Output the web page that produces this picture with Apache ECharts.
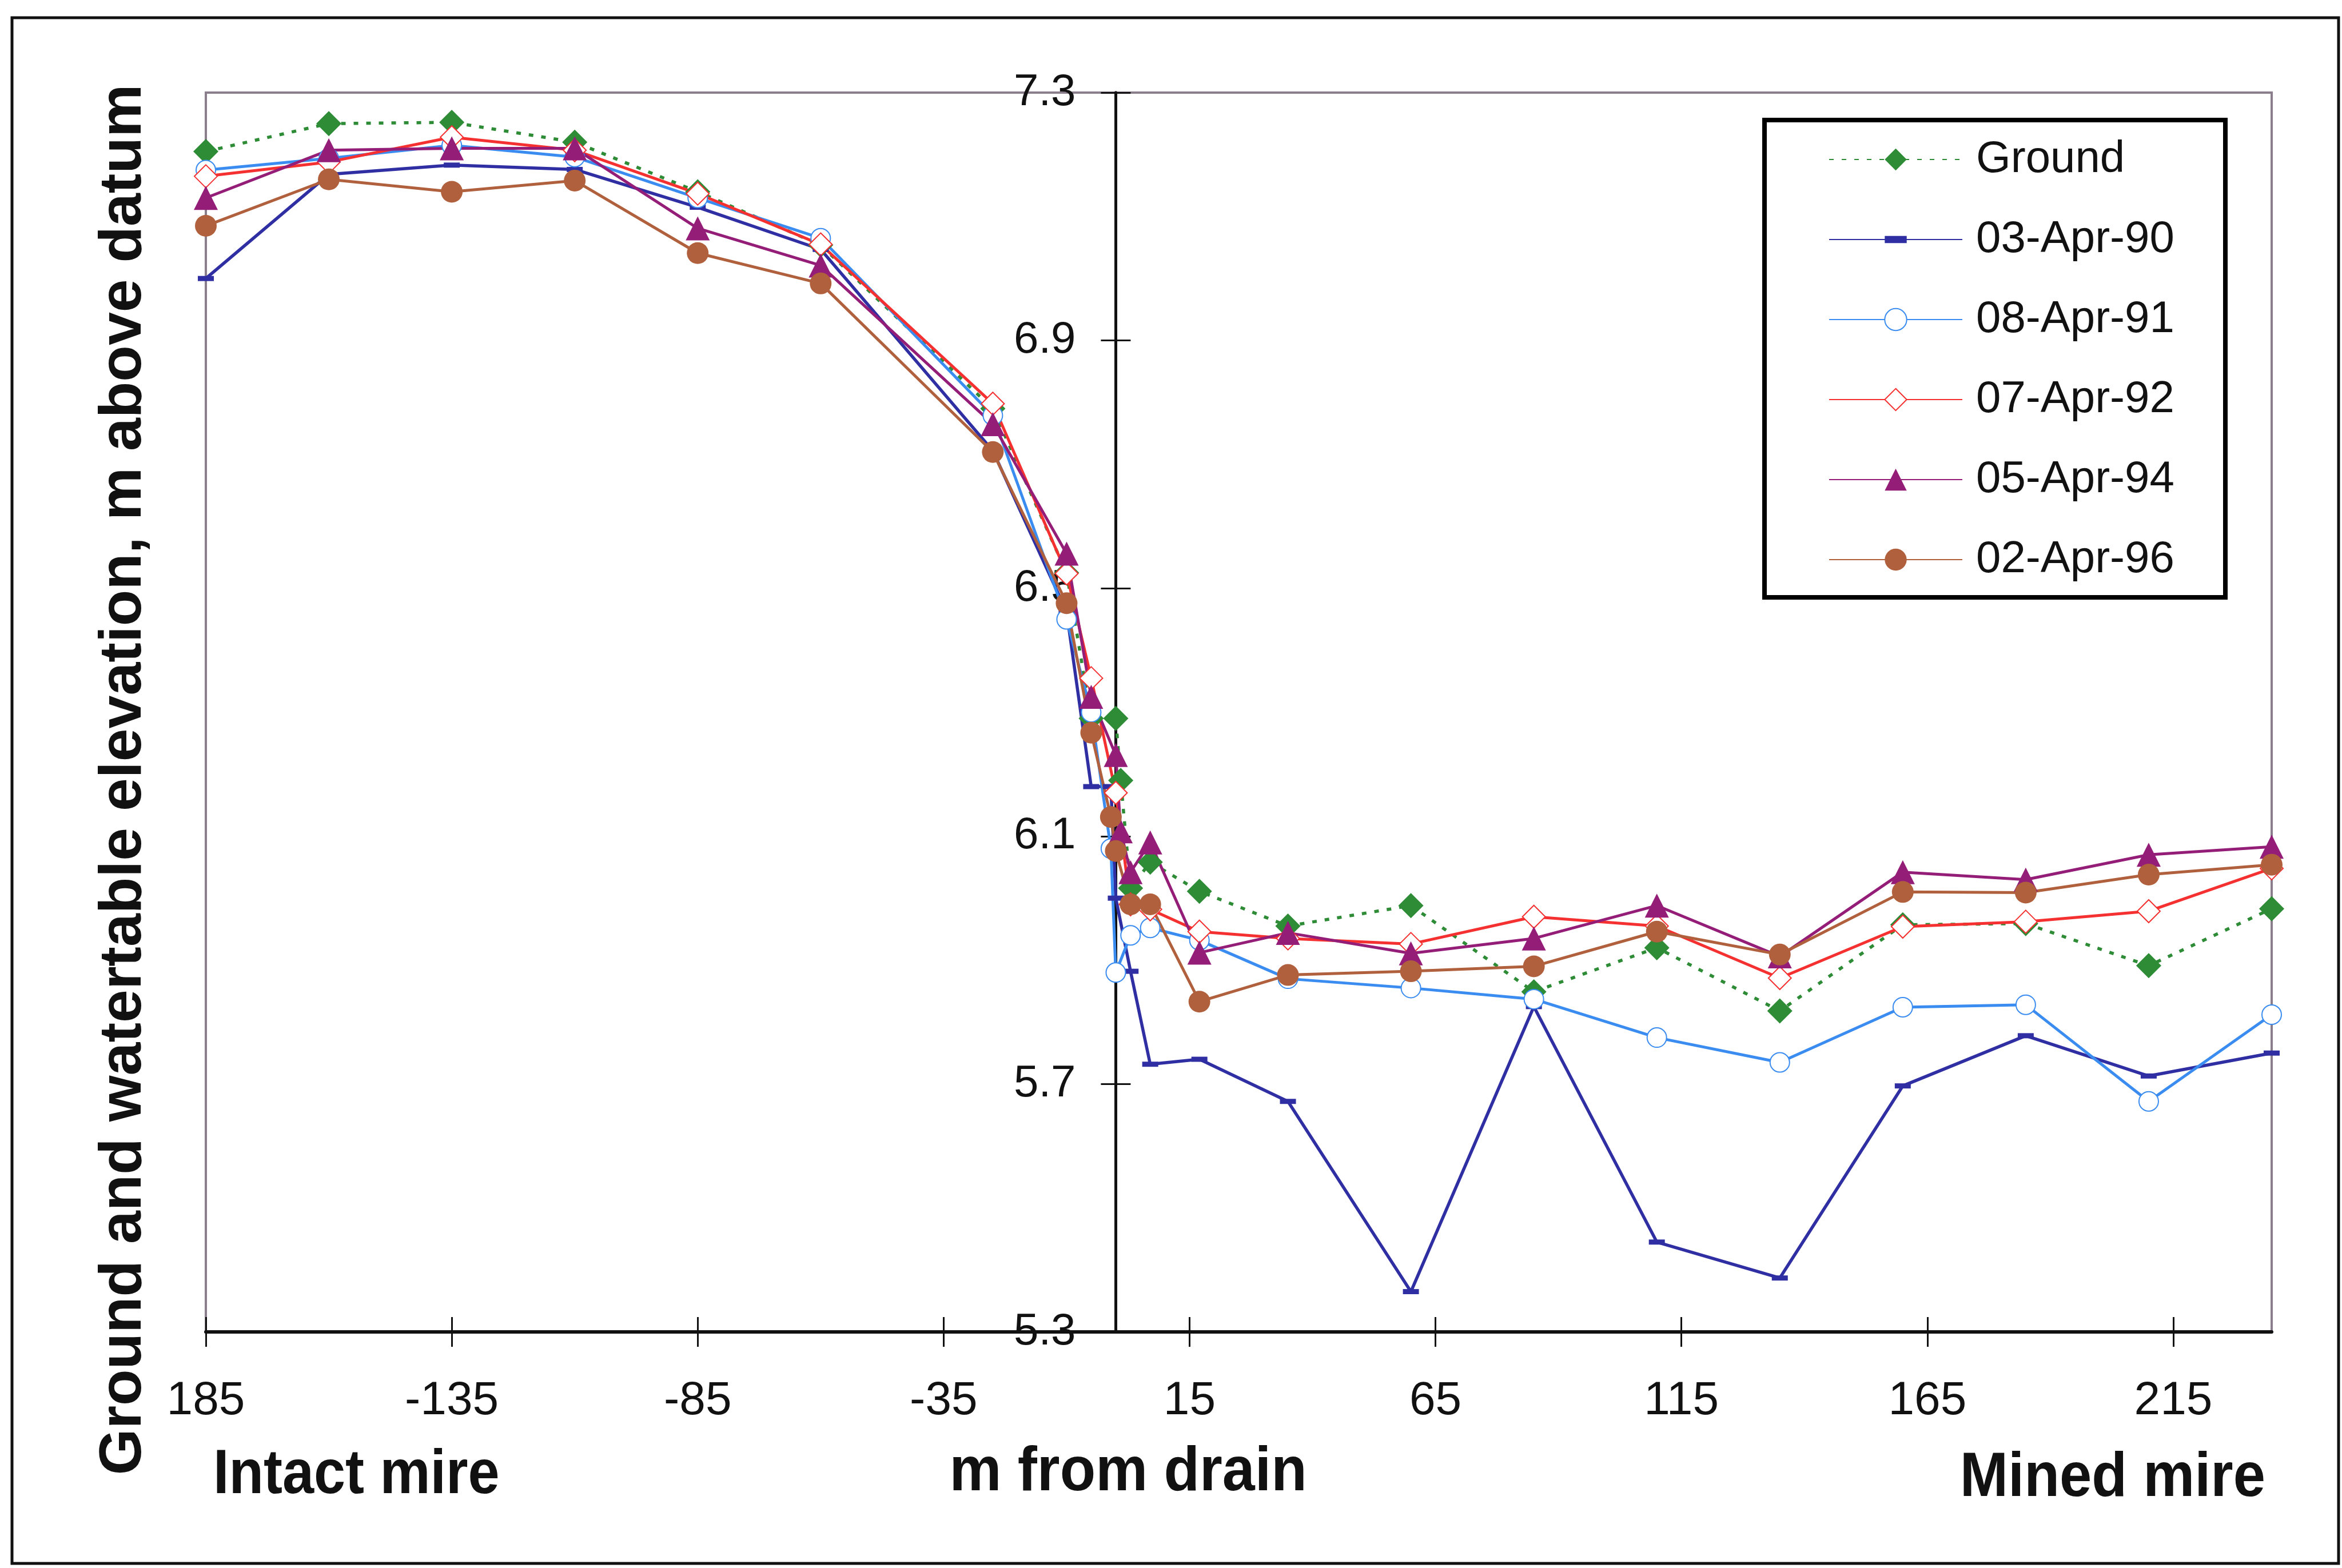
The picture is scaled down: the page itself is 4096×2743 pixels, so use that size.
<!DOCTYPE html>
<html>
<head>
<meta charset="utf-8">
<script src="https://cdn.jsdelivr.net/npm/echarts@6/dist/echarts.min.js"></script>
<style>
html,body{margin:0;padding:0;background:#ffffff;}
#chart{width:4096px;height:2743px;}
</style>
</head>
<body>
<div id="chart"></div>
<script>
// ---- data ----
const distances = [-185, -160, -135, -110, -85, -60, -25, -10, -5, -1, 0, 1, 3, 7, 17, 35, 60, 85, 110, 135, 160, 185, 210, 235];
const ground  = [7.205, 7.250, 7.252, 7.220, 7.140, 7.054, 6.790, 6.525, 6.290, null, 6.290, 6.190, 6.016, 6.058, 6.011, 5.955, 5.988, 5.849, 5.920, 5.818, 5.957, 5.959, 5.891, 5.983];
const apr90   = [7.000, 7.168, 7.183, 7.176, 7.115, 7.047, 6.722, 6.462, 6.180, 6.180, 6.000, null, 5.882, 5.732, 5.740, 5.672, 5.365, 5.825, 5.445, 5.387, 5.697, 5.778, 5.713, 5.750];
const apr91   = [7.175, 7.194, 7.215, 7.196, 7.130, 7.065, 6.779, 6.450, 6.300, 6.080, 5.880, null, 5.940, 5.952, 5.932, 5.870, 5.855, 5.837, 5.775, 5.735, 5.824, 5.828, 5.672, 5.812];
const apr92   = [7.165, 7.188, 7.228, 7.207, 7.137, 7.055, 6.798, 6.524, 6.355, null, 6.170, null, 5.990, 5.982, 5.946, 5.935, 5.926, 5.970, 5.955, 5.871, 5.954, 5.962, 5.979, 6.048];
const apr94   = [7.130, 7.207, 7.210, 7.210, 7.081, 7.021, 6.765, 6.556, 6.325, null, 6.231, 6.108, 6.042, 6.090, 5.912, 5.944, 5.911, 5.935, 5.988, 5.906, 6.042, 6.030, 6.070, 6.083];
const apr96   = [7.085, 7.160, 7.140, 7.158, 7.041, 6.992, 6.720, 6.476, 6.267, 6.131, 6.076, null, 5.990, 5.990, 5.833, 5.876, 5.882, 5.890, 5.946, 5.909, 6.010, 6.009, 6.038, 6.054];
const seriesNames = ['Ground', '03-Apr-90', '08-Apr-91', '07-Apr-92', '05-Apr-94', '02-Apr-96'];
const xTickValues = [-185, -135, -85, -35, 15, 65, 115, 165, 215];
const xTickLabels = ['185', '-135', '-85', '-35', '15', '65', '115', '165', '215'];
const yTickValues = [5.3, 5.7, 6.1, 6.5, 6.9, 7.3];
const yTickLabels = ['5.3', '5.7', '6.1', '6.5', '6.9', '7.3'];
const xMin = -185, xMax = 235, yMin = 5.3, yMax = 7.3;
const drainX = 0; // the value axis crosses the x axis at the drain

// ---- presentation ----
const NARROW = "'Liberation Sans Narrow', 'Arial Narrow', 'Liberation Sans', Arial, sans-serif";
const BOLD = "'Liberation Sans', Arial, sans-serif";
const DASH = 'path://M0 0 M10 10 M0 3.4 L10 3.4 L10 6.6 L0 6.6 Z';
const GRID_LEFT = 360, GRID_RIGHT = 123, GRID_TOP = 162, GRID_BOTTOM = 413, W = 4096;
const gridWidth = W - GRID_LEFT - GRID_RIGHT;
const yAxisOffset = -gridWidth * (drainX - xMin) / (xMax - xMin);

function pairs(ys) {
  const out = [];
  ys.forEach((v, i) => { if (v !== null) out.push([distances[i], v]); });
  return out;
}
function labelFor(values, labels, v) {
  for (let i = 0; i < values.length; i++) if (Math.abs(values[i] - v) < 1e-6) return labels[i];
  return '';
}

const styles = [
  { data: ground, color: '#2e8b36', symbol: 'diamond', size: 44, width: 5.5, type: [8, 14], border: 0 },
  { data: apr90,  color: '#2f2fa3', symbol: DASH, size: 28, width: 5.5, type: 'solid', border: 0 },
  { data: apr91,  color: '#3a8cf0', symbol: 'emptyCircle', size: 34, width: 5, type: 'solid', border: 5 },
  { data: apr92,  color: '#f53030', symbol: 'emptyDiamond', size: 40, width: 5, type: 'solid', border: 5 },
  { data: apr94,  color: '#941d78', symbol: 'triangle', size: 42, width: 5, type: 'solid', border: 0 },
  { data: apr96,  color: '#b0603c', symbol: 'circle', size: 38, width: 5, type: 'solid', border: 0 }
];

const series = styles.map((s, i) => ({
  name: seriesNames[i],
  type: 'line',
  xAxisIndex: 0,
  yAxisIndex: 0,
  data: pairs(s.data),
  symbol: s.symbol,
  symbolSize: s.size,
  clip: false,
  color: s.color,
  lineStyle: { color: s.color, width: s.width, type: s.type, cap: 'butt' },
  itemStyle: { color: s.color, borderColor: s.color, borderWidth: s.border },
  emphasis: { disabled: true },
  animation: false
}));

const axisCommonX = {
  type: 'value', min: xMin, max: xMax, position: 'bottom',
  splitLine: { show: false }
};
const axisCommonY = {
  type: 'value', min: yMin, max: yMax, position: 'left', offset: yAxisOffset,
  splitLine: { show: false }
};

const option = {
  backgroundColor: '#ffffff',
  animation: false,
  grid: {
    left: GRID_LEFT, right: GRID_RIGHT, top: GRID_TOP, bottom: GRID_BOTTOM,
    show: true, borderColor: '#8a7d8c', borderWidth: 4, backgroundColor: 'transparent'
  },
  xAxis: [
    Object.assign({}, axisCommonX, {
      axisLine: { show: true, onZero: false, lineStyle: { color: '#111', width: 6 } },
      axisTick: { show: true, inside: false, length: 26, lineStyle: { color: '#111', width: 3 }, customValues: xTickValues },
      axisLabel: {
        show: true, margin: 80, fontSize: 82, fontFamily: NARROW, color: '#111',
        customValues: xTickValues,
        formatter: v => labelFor(xTickValues, xTickLabels, v)
      }
    }),
    Object.assign({}, axisCommonX, {
      axisLine: { show: false, onZero: false },
      axisTick: { show: true, inside: true, length: 26, lineStyle: { color: '#111', width: 3 }, customValues: xTickValues },
      axisLabel: { show: false }
    })
  ],
  yAxis: [
    Object.assign({}, axisCommonY, {
      axisLine: { show: true, onZero: false, lineStyle: { color: '#111', width: 5 } },
      axisTick: { show: true, inside: false, length: 26, lineStyle: { color: '#111', width: 3 }, customValues: yTickValues },
      axisLabel: {
        show: true, margin: 70, fontSize: 78, fontFamily: NARROW, color: '#111',
        customValues: yTickValues,
        formatter: v => labelFor(yTickValues, yTickLabels, v)
      }
    }),
    Object.assign({}, axisCommonY, {
      axisLine: { show: true, onZero: false, lineStyle: { color: '#111', width: 5 } },
      axisTick: { show: true, inside: true, length: 26, lineStyle: { color: '#111', width: 3 }, customValues: yTickValues },
      axisLabel: { show: false }
    })
  ],
  legend: {
    orient: 'vertical',
    left: 3198, top: 240,
    itemWidth: 233, itemHeight: 48, itemGap: 62,
    padding: 0,
    selectedMode: false,
    textStyle: { fontSize: 78, fontFamily: NARROW, color: '#111', padding: [0, 0, 0, 19] },
    data: seriesNames
  },
  graphic: [
    { type: 'rect', silent: true, shape: { x: 21, y: 31, width: 4069, height: 2704 },
      style: { fill: 'none', stroke: '#111', lineWidth: 5 } },
    { type: 'rect', silent: true, shape: { x: 3086, y: 210, width: 806, height: 835 },
      style: { fill: 'none', stroke: '#000', lineWidth: 8 } },
    { type: 'text', silent: true, x: 217, y: 1364, rotation: Math.PI / 2,
      style: { text: 'Ground and watertable elevation, m above datum', fontSize: 104, fontWeight: 'bold',
               fontFamily: BOLD, fill: '#111', align: 'center', verticalAlign: 'middle' } },
    { type: 'text', silent: true, x: 373, y: 2582, scaleX: 0.9,
      style: { text: 'Intact mire', fontSize: 110, fontWeight: 'bold', fontFamily: BOLD, fill: '#111',
               align: 'left', verticalAlign: 'middle' } },
    { type: 'text', silent: true, x: 1973, y: 2577, scaleX: 0.93,
      style: { text: 'm from drain', fontSize: 110, fontWeight: 'bold', fontFamily: BOLD, fill: '#111',
               align: 'center', verticalAlign: 'middle' } },
    { type: 'text', silent: true, x: 3962, y: 2587, scaleX: 0.92,
      style: { text: 'Mined mire', fontSize: 110, fontWeight: 'bold', fontFamily: BOLD, fill: '#111',
               align: 'right', verticalAlign: 'middle' } }
  ],
  series: series
};

const chart = echarts.init(document.getElementById('chart'), null, { renderer: 'canvas', width: 4096, height: 2743 });
chart.setOption(option);
</script>
</body>
</html>
